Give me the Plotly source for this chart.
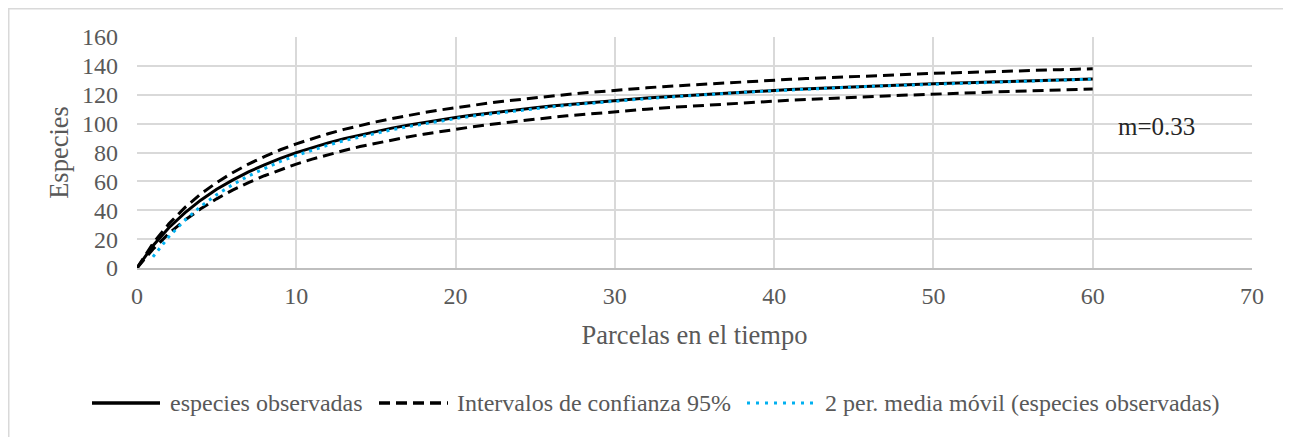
import plotly.graph_objects as go

parcelas = list(range(0, 61))

especies_observadas = [0, 15.4, 27.9, 38.2, 47.0, 54.5, 60.9, 66.6, 71.5, 76.0, 79.9, 83.5, 86.7, 89.6, 92.2,
                       94.6, 96.9, 98.9, 100.8, 102.6, 104.3, 105.8, 107.2, 108.6, 109.9, 111.0, 112.2, 113.2,
                       114.2, 115.2, 116.1, 116.9, 117.7, 118.5, 119.2, 119.9, 120.6, 121.3, 121.9, 122.5, 123.0,
                       123.6, 124.1, 124.6, 125.1, 125.5, 126.0, 126.4, 126.8, 127.2, 127.6, 128.0, 128.3, 128.7,
                       129.0, 129.4, 129.7, 130.0, 130.3, 130.6, 130.9]

ic_superior = [0, 17.0, 30.6, 41.8, 51.2, 59.2, 66.0, 72.0, 77.2, 81.9, 86.0, 89.7, 93.0, 96.0, 98.7, 101.2,
               103.5, 105.7, 107.6, 109.4, 111.1, 112.7, 114.1, 115.5, 116.8, 118.0, 119.2, 120.2, 121.2, 122.2,
               123.1, 124.0, 124.8, 125.6, 126.3, 127.0, 127.7, 128.4, 129.0, 129.6, 130.1, 130.7, 131.2, 131.7,
               132.2, 132.7, 133.1, 133.5, 134.0, 134.4, 134.8, 135.1, 135.5, 135.8, 136.2, 136.5, 136.8, 137.1,
               137.4, 137.7, 138.0]

ic_inferior = [0, 13.0, 23.9, 33.1, 41.0, 47.9, 53.9, 59.2, 63.9, 68.2, 72.0, 75.4, 78.6, 81.4, 84.1, 86.5,
               88.7, 90.8, 92.7, 94.5, 96.2, 97.7, 99.2, 100.6, 101.9, 103.1, 104.3, 105.4, 106.4, 107.4, 108.3,
               109.2, 110.0, 110.9, 111.6, 112.4, 113.1, 113.7, 114.4, 115.0, 115.6, 116.2, 116.7, 117.3, 117.8,
               118.3, 118.7, 119.2, 119.6, 120.1, 120.5, 120.9, 121.3, 121.6, 122.0, 122.3, 122.7, 123.0, 123.3,
               123.6, 124.0]

mm_x = list(range(1, 61))
media_movil = [7.7, 21.7, 33.0, 42.6, 50.8, 57.7, 63.8, 69.0, 73.8, 78.0, 81.7, 85.1, 88.2, 90.9, 93.4, 95.8,
               97.9, 99.9, 101.7, 103.5, 105.1, 106.5, 107.9, 109.3, 110.5, 111.6, 112.7, 113.7, 114.7, 115.7,
               116.5, 117.3, 118.1, 118.9, 119.6, 120.3, 121.0, 121.6, 122.2, 122.8, 123.3, 123.9, 124.4, 124.9,
               125.3, 125.8, 126.2, 126.6, 127.0, 127.4, 127.8, 128.2, 128.5, 128.9, 129.2, 129.6, 129.9, 130.2,
               130.5, 130.8]

legend_names = ["especies observadas", "Intervalos de confianza 95%",
                "2 per. media móvil (especies observadas)"]

FONT = "Liberation Serif, Times New Roman, serif"
GRAY = "#595959"
BLUE = "#00b0f0"
DASH = "11px,6px"
DOT = "3px,5px"

# page offset of the plotly div (default body margin)
OFF = 8
FIG_W, FIG_H = 1291 - OFF, 437 - OFF

# plot area geometry in page pixels
L, R, T, B = 137, 1252, 37, 268
W, H = R - L, B - T


def px_x(v):
    return (v - L) / W


def px_y(v):
    return (B - v) / H


fig = go.Figure()
fig.add_trace(go.Scatter(x=parcelas, y=especies_observadas, mode="lines",
                         name=legend_names[0], showlegend=False,
                         line=dict(color="black", width=3)))
fig.add_trace(go.Scatter(x=parcelas, y=ic_superior, mode="lines",
                         name=legend_names[1], showlegend=False,
                         line=dict(color="black", width=3, dash=DASH)))
fig.add_trace(go.Scatter(x=parcelas, y=ic_inferior, mode="lines",
                         name=legend_names[1], showlegend=False,
                         line=dict(color="black", width=3, dash=DASH)))
fig.add_trace(go.Scatter(x=mm_x, y=media_movil, mode="lines",
                         name=legend_names[2], showlegend=False,
                         line=dict(color=BLUE, width=3, dash=DOT)))

fig.add_annotation(x=64.0, y=97.7, text="m=0.33", showarrow=False,
                   font=dict(family=FONT, size=25, color="#262626"))

# custom legend (Excel-like long line samples)
leg_y = px_y(403)
leg_items = [
    (92, 160, 168, dict(color="black", width=3.5), legend_names[0]),
    (379, 448, 455, dict(color="black", width=3.5, dash=DASH), legend_names[1]),
    (747, 817, 823, dict(color=BLUE, width=3, dash="3px,6px"), legend_names[2]),
]
for x0, x1, tx, ln, name in leg_items:
    fig.add_shape(type="line", xref="paper", yref="paper",
                  x0=px_x(x0), x1=px_x(x1), y0=leg_y, y1=leg_y, line=ln)
    fig.add_annotation(xref="paper", yref="paper", x=px_x(tx), y=leg_y, xanchor="left",
                       yanchor="middle", text=name, showarrow=False,
                       font=dict(family=FONT, size=24, color=GRAY))

# outer chart border (partially visible)
fig.add_shape(type="rect", xref="paper", yref="paper",
              x0=px_x(8.75), x1=px_x(1400), y0=px_y(600), y1=px_y(8.75),
              line=dict(color="#d9d9d9", width=1.5), fillcolor="rgba(0,0,0,0)", layer="below")

fig.update_layout(
    width=FIG_W, height=FIG_H,
    margin=dict(l=L - OFF, r=FIG_W - (R - OFF), t=T - OFF, b=FIG_H - (B - OFF)),
    paper_bgcolor="white", plot_bgcolor="white",
    font=dict(family=FONT, size=24, color=GRAY),
    showlegend=False,
    xaxis=dict(range=[0, 70], dtick=10, tick0=0, showgrid=True, gridcolor="#d9d9d9", gridwidth=1.5,
               zeroline=False, showline=True, linecolor="#bfbfbf", linewidth=1.5,
               ticks="", ticklabelstandoff=5, automargin=False,
               tickfont=dict(family=FONT, size=24, color=GRAY),
               title=dict(text="Parcelas en el tiempo", font=dict(family=FONT, size=26.5, color=GRAY),
                          standoff=18),
               fixedrange=True),
    yaxis=dict(range=[0, 160], dtick=20, tick0=0, showgrid=True, gridcolor="#d9d9d9", gridwidth=1.5,
               zeroline=False, showline=False, ticks="", ticklabelstandoff=18, automargin=False,
               tickfont=dict(family=FONT, size=24, color=GRAY),
               title=dict(text="Especies", font=dict(family=FONT, size=26.5, color=GRAY), standoff=5),
               fixedrange=True),
)

fig.write_html("out.html")
